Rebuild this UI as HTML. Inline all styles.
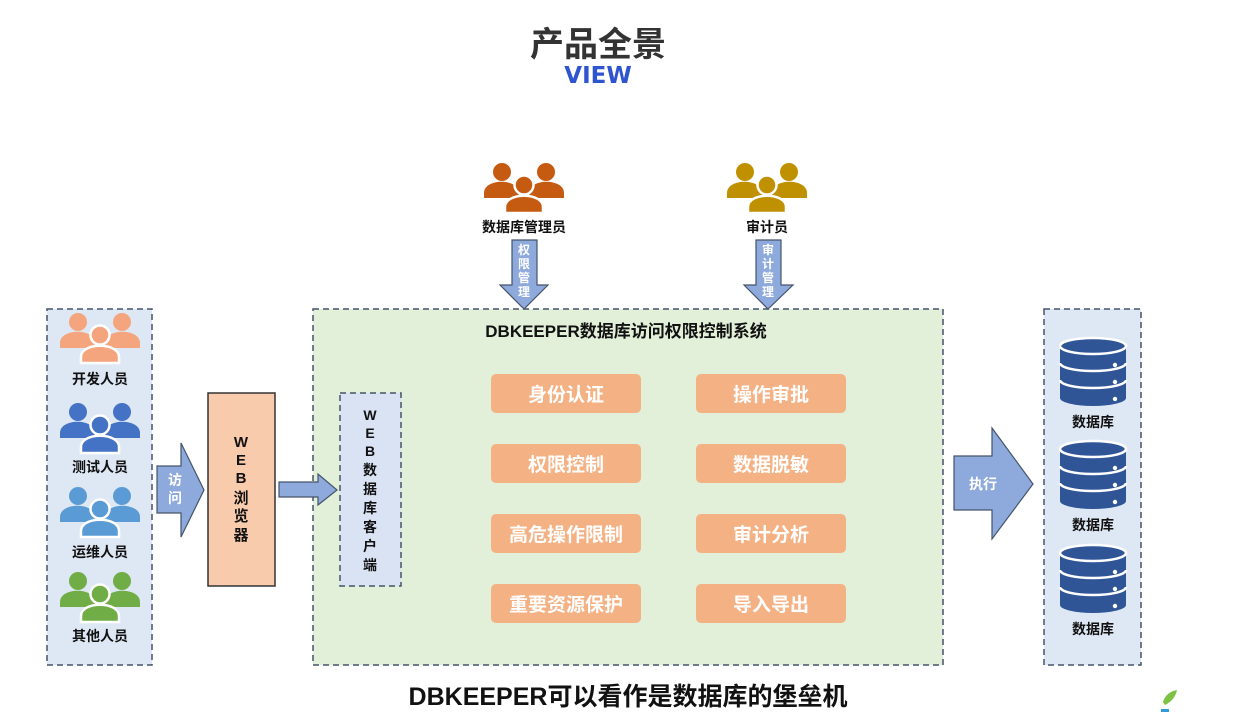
<!DOCTYPE html>
<html><head><meta charset="utf-8"><style>
html,body{margin:0;padding:0;background:#fff;}
svg{display:block;}
text{font-family:"Liberation Sans","Noto Sans CJK SC",sans-serif;font-weight:bold;}
</style></head><body>
<svg width="1242" height="724" viewBox="0 0 1242 724" xmlns="http://www.w3.org/2000/svg">
<defs>
<g id="ppl">
  <circle cx="-22" cy="-15" r="9"/>
  <path d="M-40,11 L-40,6 C-40,-9 -5,-9 -5,6 L-5,11 Z"/>
  <circle cx="22" cy="-15" r="9"/>
  <path d="M5,11 L5,6 C5,-9 40,-9 40,6 L40,11 Z"/>
  <circle cx="0" cy="-2" r="9.5" stroke="#fff" stroke-width="2.5"/>
  <path d="M-19,26 L-19,20 C-19,5 19,5 19,20 L19,26 Z" stroke="#fff" stroke-width="2.5"/>
</g>
<g id="db">
  <path d="M-33,-26 L-33,26 A33,8 0 0 0 33,26 L33,-26 Z" fill="#2F5597"/>
  <ellipse cx="0" cy="-26" rx="33" ry="8" fill="#2F5597" stroke="#fff" stroke-width="2.5"/>
  <path d="M-33,-9 A33,8 0 0 0 33,-9" fill="none" stroke="#fff" stroke-width="2.5"/>
  <path d="M-33,8 A33,8 0 0 0 33,8" fill="none" stroke="#fff" stroke-width="2.5"/>
  <circle cx="22" cy="-7" r="2.2" fill="#fff"/>
  <circle cx="22" cy="10" r="2.2" fill="#fff"/>
  <circle cx="22" cy="27" r="2.2" fill="#fff"/>
</g>
</defs>
<text x="598" y="56" font-size="34" text-anchor="middle" fill="#333">产品全景</text>
<text x="598" y="83" font-size="23" text-anchor="middle" fill="#2F54D0" style="font-family:'DejaVu Sans','Liberation Sans',sans-serif">VIEW</text>

<!-- left panel -->
<rect x="47" y="309" width="105" height="356" fill="#DEE8F4" stroke="#44546A" stroke-width="1.5" stroke-dasharray="6,4"/>
<use href="#ppl" x="100" y="337" fill="#F4A57E"/>
<use href="#ppl" x="100" y="427" fill="#4472C4"/>
<use href="#ppl" x="100" y="511" fill="#5B9BD5"/>
<use href="#ppl" x="100" y="596" fill="#70AD47"/>
<g font-size="14" text-anchor="middle" fill="#111">
<text x="100" y="384">开发人员</text>
<text x="100" y="472">测试人员</text>
<text x="100" y="557">运维人员</text>
<text x="100" y="641">其他人员</text>
</g>
<!-- 访问 arrow -->
<path d="M157,466 L181,466 L181,443 L204,490 L181,537 L181,513 L157,513 Z" fill="#8EA9DB" stroke="#44546A" stroke-width="1.2"/>
<text x="175" y="485" font-size="14" text-anchor="middle" fill="#fff">访</text>
<text x="175" y="503" font-size="14" text-anchor="middle" fill="#fff">问</text>
<!-- WEB browser -->
<rect x="208" y="393" width="67" height="193" fill="#F8CBAD" stroke="#333" stroke-width="1.5"/>
<g font-size="15" text-anchor="middle" fill="#111">
<text x="241" y="447">W</text><text x="241" y="465">E</text><text x="241" y="483">B</text>
<text x="241" y="503">浏</text><text x="241" y="521">览</text><text x="241" y="540">器</text>
</g>
<!-- green system -->
<rect x="313" y="309" width="630" height="356" fill="#E2EFD9" stroke="#44546A" stroke-width="1.5" stroke-dasharray="6,4"/>
<path d="M279,482 L318,482 L318,474 L337,490 L318,505 L318,497 L279,497 Z" fill="#8EA9DB" stroke="#44546A" stroke-width="1.2"/>
<rect x="340" y="393" width="61" height="193" fill="#DAE3F3" stroke="#44546A" stroke-width="1.5" stroke-dasharray="6,4"/>
<g font-size="14" text-anchor="middle" fill="#111">
<text x="370" y="420">W</text><text x="370" y="438">E</text><text x="370" y="456">B</text>
<text x="370" y="475">数</text><text x="370" y="494">据</text><text x="370" y="513">库</text>
<text x="370" y="532">客</text><text x="370" y="551">户</text><text x="370" y="570">端</text>
</g>
<text x="626" y="337" font-size="17" text-anchor="middle" fill="#111">DBKEEPER数据库访问权限控制系统</text>
<g fill="#F4B183">
<rect x="491" y="374" width="150" height="39" rx="5"/><rect x="696" y="374" width="150" height="39" rx="5"/>
<rect x="491" y="444" width="150" height="39" rx="5"/><rect x="696" y="444" width="150" height="39" rx="5"/>
<rect x="491" y="514" width="150" height="39" rx="5"/><rect x="696" y="514" width="150" height="39" rx="5"/>
<rect x="491" y="584" width="150" height="39" rx="5"/><rect x="696" y="584" width="150" height="39" rx="5"/>
</g>
<g font-size="19" text-anchor="middle" fill="#fff">
<text x="566" y="401">身份认证</text><text x="771" y="401">操作审批</text>
<text x="566" y="471">权限控制</text><text x="771" y="471">数据脱敏</text>
<text x="566" y="541">高危操作限制</text><text x="771" y="541">审计分析</text>
<text x="566" y="611">重要资源保护</text><text x="771" y="611">导入导出</text>
</g>
<!-- top people -->
<use href="#ppl" x="524" y="187" fill="#C55A11"/>
<use href="#ppl" x="767" y="187" fill="#BF9000"/>
<text x="524" y="232" font-size="14" text-anchor="middle" fill="#111">数据库管理员</text>
<text x="767" y="232" font-size="14" text-anchor="middle" fill="#111">审计员</text>
<path d="M512,240 L537,240 L537,285 L548,285 L524,309 L500,285 L512,285 Z" fill="#8EA9DB" stroke="#44546A" stroke-width="1.2"/>
<path d="M756,240 L781,240 L781,285 L793,285 L768,309 L744,285 L756,285 Z" fill="#8EA9DB" stroke="#44546A" stroke-width="1.2"/>
<g font-size="12" text-anchor="middle" fill="#fff">
<text x="524" y="254">权</text><text x="524" y="268">限</text><text x="524" y="282">管</text><text x="524" y="296">理</text>
<text x="768" y="254">审</text><text x="768" y="268">计</text><text x="768" y="282">管</text><text x="768" y="296">理</text>
</g>
<!-- exec arrow -->
<path d="M954,456 L992,456 L992,428 L1033,484 L992,539 L992,510 L954,510 Z" fill="#8EA9DB" stroke="#44546A" stroke-width="1.2"/>
<text x="983" y="489" font-size="14" text-anchor="middle" fill="#fff">执行</text>
<!-- right panel -->
<rect x="1044" y="309" width="97" height="356" fill="#DEE8F4" stroke="#44546A" stroke-width="1.5" stroke-dasharray="6,4"/>
<use href="#db" x="1093" y="372"/>
<use href="#db" x="1093" y="475"/>
<use href="#db" x="1093" y="579"/>
<g font-size="14" text-anchor="middle" fill="#111">
<text x="1093" y="427">数据库</text><text x="1093" y="530">数据库</text><text x="1093" y="634">数据库</text>
</g>
<text x="628" y="705" font-size="25" text-anchor="middle" fill="#111">DBKEEPER可以看作是数据库的堡垒机</text>
<path d="M1163,702 Q1166,692 1177,690 Q1175,700 1165,705 Z" fill="#7DC242"/>
<rect x="1161" y="709" width="8" height="3" fill="#2E9BD6"/>
</svg>
</body></html>
